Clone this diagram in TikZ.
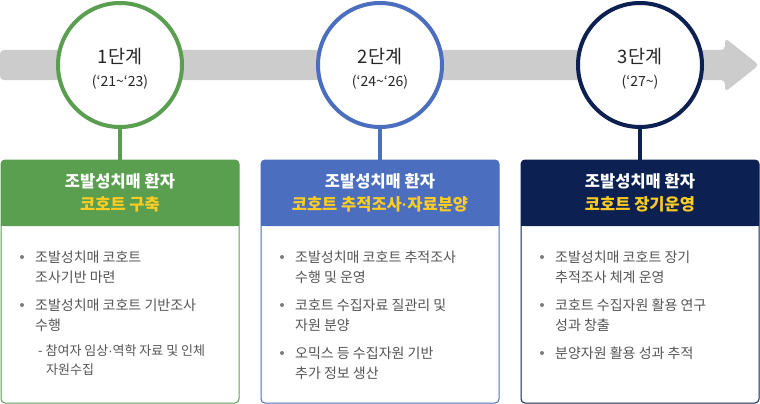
\documentclass[tikz,border=0pt]{standalone}
\usepackage{fontspec}
\setmainfont{Noto Sans CJK KR}
\newfontfamily\latinfont{Liberation Sans}
\usetikzlibrary{positioning}

\definecolor{stgreen}{HTML}{5A9E50}
\definecolor{stblue}{HTML}{4C6EBF}
\definecolor{stnavy}{HTML}{0C2152}
\definecolor{bargray}{HTML}{CCCCCC}
\definecolor{hlyellow}{HTML}{FFCC22}
\definecolor{txtgray}{HTML}{555555}
\definecolor{dotgray}{HTML}{7A7A7A}

\newcommand{\yrfont}{\fontsize{14}{16}\selectfont}
\newcommand{\mdot}{{\latinfont ·}}
\newcommand{\stgstrut}{\rule{0pt}{23pt}}

\begin{document}
\begin{tikzpicture}[
    x = 1pt, y = 1pt,
    stage/.style = {
        circle,
        draw,
        line width   = 4pt,
        fill         = white,
        minimum size = 124pt,
        inner sep    = 0pt,
        align        = center,
        text         = black!85,
        font         = \fontsize{18.5}{23}\selectfont
    },
    box/.style = {
        rectangle,
        draw,
        line width     = 1pt,
        rounded corners = 4pt,
        fill           = white,
        minimum width  = 238pt,
        minimum height = 243pt,
        outer sep      = 0pt,
        anchor         = north
    },
    link/.style = {line width = 4pt},
    head/.style = {
        align     = center,
        text      = white,
        inner sep = 0pt,
        font      = \fontsize{16.5}{23}\selectfont\bfseries
    },
    item/.style = {
        anchor    = north west,
        align     = left,
        inner sep = 0pt,
        text      = txtgray,
        font      = \fontsize{14}{20}\selectfont
    },
    subitem/.style = {
        item,
        font = \fontsize{13}{19}\selectfont
    }
]

\useasboundingbox (0,0) rectangle (760,-404);

% ================================================================
%  FLECHA DE FONDO (barra gris)
% ================================================================

\fill[bargray, rounded corners=4pt]
    (0,-50) -- (725,-50) -- (725,-38) -- (759,-65)
    -- (725,-92) -- (725,-80) -- (0,-80) -- cycle;

% ================================================================
%  CAJAS (fondo blanco, borde del color de la etapa)
% ================================================================

\node[box, draw=stgreen] (box1) at (120,-160) {};
\node[box, draw=stblue]  (box2) at (380,-160) {};
\node[box, draw=stnavy]  (box3) at (640,-160) {};

% cabeceras de color (66 de alto)
\foreach \bx/\col in {box1/stgreen, box2/stblue, box3/stnavy}{
    \fill[\col, rounded corners=4pt] (\bx.north west) rectangle ([yshift=-66pt]\bx.north east);
    \fill[\col] ([yshift=-20pt]\bx.north west) rectangle ([yshift=-66pt]\bx.north east);
}

% ================================================================
%  CIRCULOS DE ETAPA
% ================================================================

\node[stage, draw=stgreen] (stage1) at (120,-65)
    {\stgstrut 1단계\\{\yrfont (‘21\textasciitilde‘23)}};
\node[stage, draw=stblue]  (stage2) at (380,-65)
    {\stgstrut 2단계\\{\yrfont (‘24\textasciitilde‘26)}};
\node[stage, draw=stnavy]  (stage3) at (640,-65)
    {\stgstrut 3단계\\{\yrfont (‘27\textasciitilde)}};

% conectores circulo -> caja
\draw[link, stgreen] (stage1) -- (box1);
\draw[link, stblue]  (stage2) -- (box2);
\draw[link, stnavy]  (stage3) -- (box3);

% ================================================================
%  CABECERAS DE TEXTO
% ================================================================

\node[head] (head1) at ([yshift=-33pt]box1.north)
    {조발성치매 환자\\\textcolor{hlyellow}{코호트 구축}};
\node[head] (head2) at ([yshift=-33pt]box2.north)
    {조발성치매 환자\\\textcolor{hlyellow}{코호트 추적조사\mdot 자료분양}};
\node[head] (head3) at ([yshift=-33pt]box3.north)
    {조발성치매 환자\\\textcolor{hlyellow}{코호트 장기운영}};

% ================================================================
%  VIÑETAS
% ================================================================

% caja 1
\node[item] (list11) at ([shift={(34pt,-91pt)}]box1.north west)
    {조발성치매 코호트\\조사기반 마련};
\node[item] (list12) at ([shift={(34pt,-139pt)}]box1.north west)
    {조발성치매 코호트 기반조사\\수행};
\node[subitem] (list13) at ([shift={(37pt,-184pt)}]box1.north west)
    {- 참여자 임상\mdot 역학 자료 및 인체\\\hspace*{8pt}자원수집};

% caja 2
\node[item] (list21) at ([shift={(34pt,-91pt)}]box2.north west)
    {조발성치매 코호트 추적조사\\수행 및 운영};
\node[item] (list22) at ([shift={(34pt,-139pt)}]box2.north west)
    {코호트 수집자료 질관리 및\\자원 분양};
\node[item] (list23) at ([shift={(34pt,-187pt)}]box2.north west)
    {오믹스 등 수집자원 기반\\추가 정보 생산};

% caja 3
\node[item] (list31) at ([shift={(34pt,-91pt)}]box3.north west)
    {조발성치매 코호트 장기\\추적조사 체계 운영};
\node[item] (list32) at ([shift={(34pt,-139pt)}]box3.north west)
    {코호트 수집자원 활용 연구\\성과 창출};
\node[item] (list33) at ([shift={(34pt,-187pt)}]box3.north west)
    {분양자원 활용 성과 추적};

% puntos
\foreach \li in {list11, list12, list21, list22, list23, list31, list32, list33}{
    \fill[dotgray] ([shift={(-13pt,-6pt)}]\li.north west) circle (2pt);
}

\end{tikzpicture}
\end{document}
